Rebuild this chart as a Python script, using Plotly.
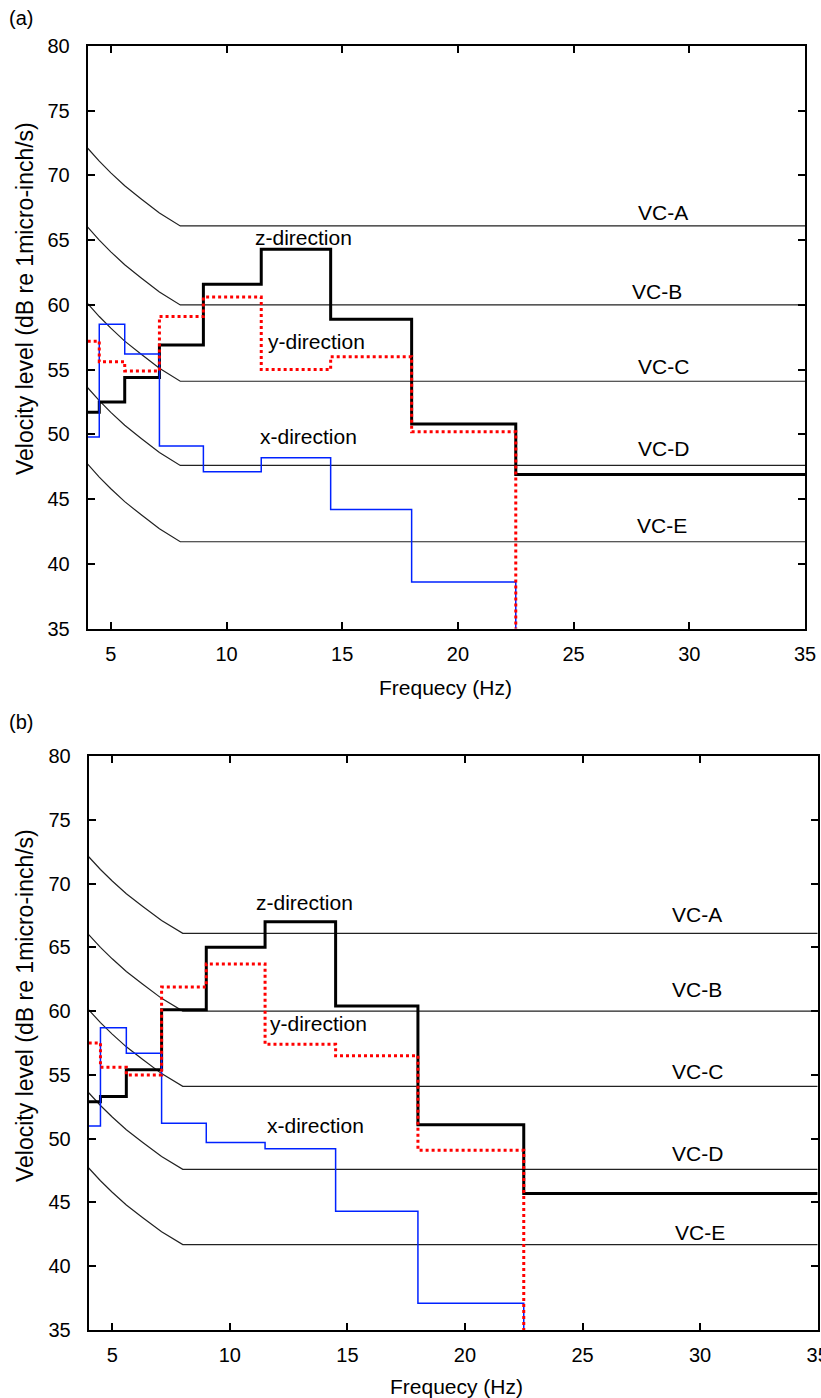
import plotly.graph_objects as go

# ---------------- data ----------------
# lower edge of each frequency band (Hz); the last band runs to 35 Hz
band_lo = [4.0, 4.5, 5.6, 7.1, 9.0, 11.5, 14.5, 18.0, 22.5]
f_end = 35.0

# panel (a) band levels, dB re 1 micro-inch/s (last band for x/y lies below the axis)
a_z = [51.7, 52.5, 54.4, 56.9, 61.6, 64.3, 58.9, 50.8, 46.9]
a_y = [57.2, 55.6, 54.9, 59.1, 60.6, 55.0, 56.0, 50.2, 30.0]
a_x = [49.8, 58.5, 56.2, 49.1, 47.1, 48.2, 44.2, 38.6, 30.0]

# panel (b) band levels
b_z = [52.9, 53.3, 55.4, 60.1, 65.0, 67.0, 60.4, 51.1, 45.7]
b_y = [57.5, 55.6, 55.0, 61.9, 63.7, 57.4, 56.5, 49.1, 30.0]
b_x = [51.0, 58.7, 56.7, 51.2, 49.7, 49.2, 44.3, 37.1, 30.0]

# vibration criterion curves
vc_freq = [4.0, 4.5, 5.0, 5.6, 6.3, 7.1, 8.0, 35.0]
vc_names = ["VC-A", "VC-B", "VC-C", "VC-D", "VC-E"]
vc_A = [72.1, 71.1, 70.2, 69.2, 68.2, 67.1, 66.1, 66.1]
vc_B = [66.0, 65.0, 64.1, 63.1, 62.1, 61.0, 60.0, 60.0]
vc_C = [60.1, 59.1, 58.2, 57.2, 56.2, 55.1, 54.1, 54.1]
vc_D = [53.6, 52.6, 51.7, 50.7, 49.7, 48.6, 47.6, 47.6]
vc_E = [47.7, 46.7, 45.8, 44.8, 43.8, 42.7, 41.7, 41.7]
vc_curves = [vc_A, vc_B, vc_C, vc_D, vc_E]

x_ticks = [5, 10, 15, 20, 25, 30, 35]
y_ticks = [35, 40, 45, 50, 55, 60, 65, 70, 75, 80]

# ---------------- figure ----------------
W, H = 821, 1398
FONT = "Liberation Sans, Arial, sans-serif"

fig = go.Figure()


def px_x(p):
    return p / W


def px_y(p):
    return 1 - p / H


panels = [
    dict(xa="x", ya="y", z=a_z, y=a_y, x=a_x,
         xdom=[px_x(87.7), px_x(805)], ydom=[px_y(628.5), px_y(46)],
         vc_pos=[(28.86, 67.1), (28.6, 61.0), (28.87, 55.24), (28.9, 48.93), (28.8, 42.96)],
         dir_pos=[(13.32, 65.2), (13.9, 57.17), (13.53, 49.83)],
         tag="(a)", tag_y=18, xtitle=(446, 687), ytitle_y=299),
    dict(xa="x2", ya="y2", z=b_z, y=b_y, x=b_x,
         xdom=[px_x(88.7), px_x(817.7)], ydom=[px_y(1330), px_y(756)],
         vc_pos=[(29.86, 67.54), (29.86, 61.66), (29.9, 55.26), (29.9, 48.8), (30.0, 42.67)],
         dir_pos=[(13.17, 68.5), (13.79, 59.05), (13.65, 51.03)],
         tag="(b)", tag_y=722, xtitle=(457, 1386), ytitle_y=1006),
]


def steps(levels):
    xs = band_lo + [f_end]
    ys = levels + [levels[-1]]
    return xs, ys


for p in panels:
    for vals in vc_curves:
        fig.add_trace(go.Scatter(x=vc_freq, y=vals, mode="lines",
                                 line=dict(color="#222222", width=1.2),
                                 xaxis=p["xa"], yaxis=p["ya"], showlegend=False,
                                 hoverinfo="skip"))
    xs, ys = steps(p["z"])
    fig.add_trace(go.Scatter(x=xs, y=ys, mode="lines", line_shape="hv",
                             line=dict(color="black", width=3),
                             xaxis=p["xa"], yaxis=p["ya"], showlegend=False))
    xs, ys = steps(p["x"])
    fig.add_trace(go.Scatter(x=xs[:-1], y=ys[:-1], mode="lines", line_shape="hv",
                             line=dict(color="#0022ff", width=1.5),
                             xaxis=p["xa"], yaxis=p["ya"], showlegend=False))
    xs, ys = steps(p["y"])
    fig.add_trace(go.Scatter(x=xs[:-1], y=ys[:-1], mode="lines", line_shape="hv",
                             line=dict(color="red", width=3, dash="3px,3px"),
                             xaxis=p["xa"], yaxis=p["ya"], showlegend=False))

    for name, (tx, ty) in zip(vc_names, p["vc_pos"]):
        fig.add_annotation(x=tx, y=ty, xref=p["xa"], yref=p["ya"], text=name,
                           showarrow=False, xanchor="center", yanchor="middle",
                           font=dict(family=FONT, size=21, color="black"))
    for name, (tx, ty) in zip(["z-direction", "y-direction", "x-direction"], p["dir_pos"]):
        fig.add_annotation(x=tx, y=ty, xref=p["xa"], yref=p["ya"], text=name,
                           showarrow=False, xanchor="center", yanchor="middle",
                           font=dict(family=FONT, size=21, color="black"))

    fig.add_annotation(x=px_x(21), y=px_y(p["tag_y"]), xref="paper", yref="paper",
                       text=p["tag"], showarrow=False, xanchor="center", yanchor="middle",
                       font=dict(family=FONT, size=20, color="black"))
    fig.add_annotation(x=px_x(p["xtitle"][0]), y=px_y(p["xtitle"][1]),
                       xref="paper", yref="paper",
                       text="Frequecy (Hz)", showarrow=False,
                       xanchor="center", yanchor="middle",
                       font=dict(family=FONT, size=21, color="black"))
    fig.add_annotation(x=px_x(25), y=px_y(p["ytitle_y"]), xref="paper", yref="paper",
                       text="Velocity level (dB re 1micro-inch/s)", showarrow=False,
                       xanchor="center", yanchor="middle",
                       textangle=-90, font=dict(family=FONT, size=23, color="black"))

axis_common = dict(showgrid=False, zeroline=False, showline=True, linecolor="black",
                   linewidth=2, mirror="ticks", ticks="inside", ticklen=7,
                   tickwidth=1.5, tickcolor="black", automargin=False,
                   ticklabeloverflow="allow",
                   tickfont=dict(family=FONT, size=20, color="black"))

for i, p in enumerate(panels):
    sx = "" if i == 0 else "2"
    fig.update_layout({
        f"xaxis{sx}": dict(axis_common, domain=p["xdom"], range=[4, 35],
                           tickvals=x_ticks, anchor=p["ya"], ticklabelstandoff=6),
        f"yaxis{sx}": dict(axis_common, domain=p["ydom"], range=[35, 80],
                           tickvals=y_ticks, anchor=p["xa"], ticklabelstandoff=12),
    })

fig.update_layout(width=W, height=H, margin=dict(l=0, r=0, t=0, b=0),
                  paper_bgcolor="white", plot_bgcolor="white",
                  font=dict(family=FONT, color="black"))

fig.write_html("out.html")
